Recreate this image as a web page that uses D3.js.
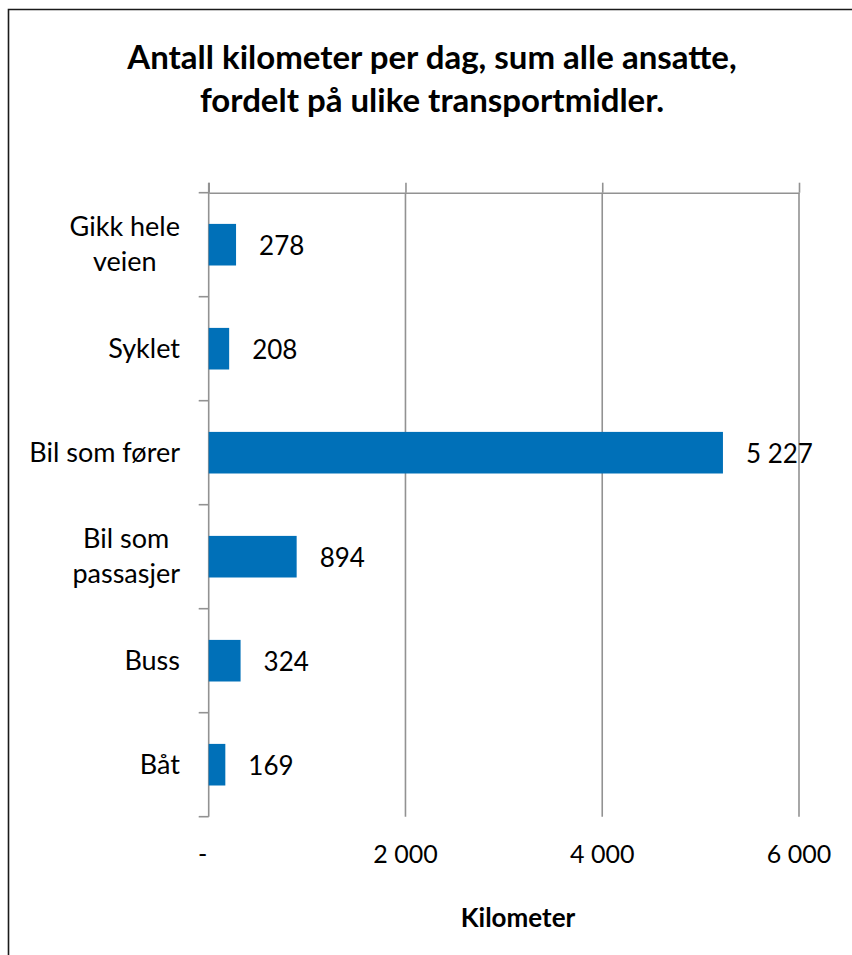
<!DOCTYPE html>
<html>
<head>
<meta charset="utf-8">
<script src="https://cdn.jsdelivr.net/npm/d3@7"></script>
<style>
  html, body { margin: 0; padding: 0; background: #fff; }
  svg { display: block; }
  text { font-family: Lato, "Open Sans", sans-serif; fill: #000; }
</style>
</head>
<body>
<svg id="chart" width="852" height="955"></svg>
<script>
const titleLines = ["Antall kilometer per dag, sum alle ansatte,", "fordelt på ulike transportmidler."];
const categories = ["Gikk hele veien", "Syklet", "Bil som fører", "Bil som passasjer", "Buss", "Båt"];
const categoryLines = [["Gikk hele", "veien"], ["Syklet"], ["Bil som fører"], ["Bil som", "passasjer"], ["Buss"], ["Båt"]];
const values = [278, 208, 5227, 894, 324, 169];
const xTicks = [0, 2000, 4000, 6000];
const xAxisTitle = "Kilometer";

const svg = d3.select("#chart");
const W = 852, H = 955;

svg.append("rect").attr("width", W).attr("height", H).attr("fill", "#fff");
svg.append("path").attr("d", `M8.5,${H} V9.5 H${W}`).attr("fill", "none")
  .attr("stroke", "#1a1a1a").attr("stroke-width", 1.6);

const locale = d3.formatLocale({decimal: ",", thousands: "\u00a0", grouping: [3], currency: ["", ""]});
const fmt = locale.format(",d");

const x = d3.scaleLinear().domain([0, 6000]).range([208.7, 799]);
const y = d3.scaleBand().domain(categories).range([192.7, 816.7]).paddingInner(0.6).paddingOuter(0.3);

const gridColor = "#929292";

// title
const title = svg.append("text").attr("text-anchor", "middle")
  .style("font-weight", "bold").style("font-size", "33px");
titleLines.forEach((t, i) => {
  title.append("tspan").attr("x", 432).attr("y", 69 + i * 43).text(t);
});

// gridlines
svg.append("g").selectAll("line").data(xTicks.filter(d => d > 0)).join("line")
  .attr("x1", d => x(d)).attr("x2", d => x(d))
  .attr("y1", y.range()[0]).attr("y2", y.range()[1])
  .attr("stroke", gridColor).attr("stroke-width", 1.6);

// value axis at top (ticks outward upward, no labels here)
const xAxis = svg.append("g").attr("transform", `translate(0,${y.range()[0]})`)
  .call(d3.axisTop(x).tickValues(xTicks).tickSizeInner(10).tickSizeOuter(0).tickFormat(""));
xAxis.select(".domain").attr("stroke", gridColor).attr("stroke-width", 1.6);
xAxis.selectAll(".tick line").attr("stroke", gridColor).attr("stroke-width", 1.6);

// value tick labels at bottom
svg.append("g").selectAll("text").data(xTicks).join("text")
  .attr("x", d => x(d)).attr("dx", d => d === 0 ? -6 : 0)
  .attr("y", 863).attr("text-anchor", "middle").style("font-size", "25px")
  .text(d => d === 0 ? "-" : fmt(d));

// category axis
const catTicks = [y.range()[0]].concat(categories.map(c => y(c) + y.bandwidth() / 2 + y.step() / 2));
svg.append("line").attr("x1", x(0)).attr("x2", x(0))
  .attr("y1", y.range()[0] - 10).attr("y2", y.range()[1])
  .attr("stroke", gridColor).attr("stroke-width", 1.6);
svg.append("g").selectAll("line").data(catTicks).join("line")
  .attr("x1", x(0) - 10).attr("x2", x(0)).attr("y1", d => d).attr("y2", d => d)
  .attr("stroke", gridColor).attr("stroke-width", 1.6);

// category labels
const labelRight = 180;
categories.forEach((c, i) => {
  const cy = y(c) + y.bandwidth() / 2;
  const lines = categoryLines[i];
  const g = svg.append("g");
  if (lines.length === 1) {
    g.append("text").attr("x", labelRight).attr("y", cy + 9.5)
      .attr("text-anchor", "end").style("font-size", "27px").text(lines[0]);
  } else {
    const ts = lines.map((l, j) => g.append("text").attr("y", cy - 8.5 + j * 35)
      .attr("text-anchor", "middle").style("font-size", "27px").text(l));
    const maxW = d3.max(ts, t => t.node().getComputedTextLength());
    ts.forEach(t => t.attr("x", labelRight - maxW / 2));
  }
});

// bars
svg.append("g").selectAll("rect").data(values).join("rect")
  .attr("x", x(0)).attr("y", (d, i) => y(categories[i]))
  .attr("width", d => x(d) - x(0)).attr("height", y.bandwidth())
  .attr("fill", "#0070B8");

// data labels
svg.append("g").selectAll("text").data(values).join("text")
  .attr("x", d => x(d) + 23).attr("y", (d, i) => y(categories[i]) + y.bandwidth() / 2 + 10)
  .style("font-size", "26px").text(d => fmt(d));

// axis title
svg.append("text").attr("x", 518).attr("y", 927).attr("text-anchor", "middle")
  .style("font-weight", "bold").style("font-size", "26px").text(xAxisTitle);
</script>
</body>
</html>
